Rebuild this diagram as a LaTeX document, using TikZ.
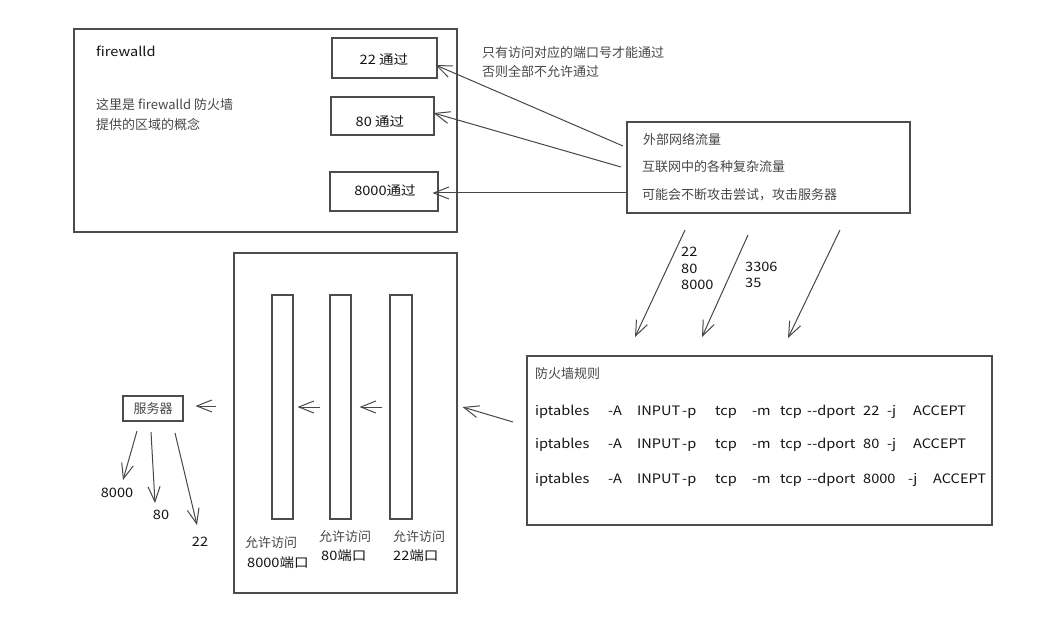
\documentclass[tikz,border=0pt]{standalone}
\usepackage{fontspec}
\setmainfont{Noto Sans CJK SC}
\newfontfamily\handf[FakeStretch=1.12]{Noto Sans CJK SC}
\usetikzlibrary{arrows.meta,calc}
\newcommand\fs{\fontsize{13}{15}\selectfont}
\newcommand\hs{\handf\fontsize{13}{15}\selectfont}
\newcommand\rw[2]{\makebox[#1pt][l]{#2}}
\begin{document}
\begin{tikzpicture}[x=1pt,y=-1pt,
  box/.style={draw=black!70,line width=1.1pt,inner sep=0pt,fill=white},
  arr/.style={draw=black!72,line width=1pt,-{Straight Barb[length=15pt,width=12pt,line width=1pt]}},
  txt/.style={anchor=west,inner sep=0pt,text=black!72,font=\fs},
  hand/.style={inner sep=0pt,text=black!92,font=\hs}]
\useasboundingbox (0,0) rectangle (1037,623);
\fill[white] (0,0) rectangle (1037,623);

% top-left firewalld box
\node[box,minimum width=383pt,minimum height=203pt] (fw) at (265.5,130.5) {};
\node[hand,anchor=west] (fwname) at (96,51) {firewalld};
\node[txt] (fwd1) at (96,105) {这里是 firewalld 防火墙};
\node[txt] (fwd2) at (96,124) {提供的区域的概念};

\node[box,minimum width=105pt,minimum height=40pt] (b22) at (384.5,58) {};
\node[hand] (t22) at (384,60) {22 通过};
\node[box,minimum width=103pt,minimum height=38pt] (b80) at (382.5,116) {};
\node[hand] (t80) at (380,122) {80 通过};
\node[box,minimum width=108pt,minimum height=39pt] (b8000) at (384,191.5) {};
\node[hand] (t8000) at (385,191) {8000通过};

\node[txt] (note1) at (482,53) {只有访问对应的端口号才能通过};
\node[txt] (note2) at (482,72) {否则全部不允许通过};

% external traffic box
\node[box,minimum width=283pt,minimum height=91pt] (ext) at (768.5,167.5) {};
\node[txt] (ext1) at (643,139) {外部网络流量};
\node[txt] (ext2) at (642,167) {互联网中的各种复杂流量};
\node[txt] (ext3) at (642,195) {可能会不断攻击尝试，攻击服务器};

\coordinate (e1) at (623,146);
\coordinate (e2) at (621,167);
\draw[arr] (e1) -- ([xshift=-2pt,yshift=-7pt]b22.east);
\draw[arr] (e2) -- ([xshift=-1pt,yshift=3pt]b80.east);
\draw[arr] ([yshift=-25.5pt]ext.west) -- ([xshift=-6pt,yshift=-1.5pt]b8000.east);

% diagonal incoming arrows
\coordinate (d1s) at (685,230); \coordinate (d1e) at (635,337);
\coordinate (d2s) at (748,235); \coordinate (d2e) at (702,337);
\coordinate (d3s) at (840,230); \coordinate (d3e) at (788,338);
\draw[arr] (d1s) -- (d1e);
\draw[arr] (d2s) -- (d2e);
\draw[arr] (d3s) -- (d3e);
\node[hand,anchor=west] (p22) at (681,252) {22};
\node[hand,anchor=west] (p80) at (681,269) {80};
\node[hand,anchor=west] (p8000) at (681,285) {8000};
\node[hand,anchor=west] (p3306) at (745,267) {3306};
\node[hand,anchor=west] (p35) at (745,283) {35};

% firewall rules box
\node[box,minimum width=465pt,minimum height=169pt] (rules) at (759.5,440.5) {};
\node[txt] (rtitle) at (535,374) {防火墙规则};
\node[hand,anchor=west] (r1) at (535,412) {\rw{73}{iptables}\rw{29}{-A}\rw{45}{INPUT}\rw{33}{-p}\rw{37}{tcp}\rw{28}{-m}\rw{27}{tcp}\rw{56}{-{}-dport}\rw{24}{22}\rw{26}{-j}ACCEPT};
\node[hand,anchor=west] (r2) at (535,445) {\rw{73}{iptables}\rw{29}{-A}\rw{45}{INPUT}\rw{33}{-p}\rw{37}{tcp}\rw{28}{-m}\rw{27}{tcp}\rw{56}{-{}-dport}\rw{24}{80}\rw{26}{-j}ACCEPT};
\node[hand,anchor=west] (r3) at (535,480) {\rw{73}{iptables}\rw{29}{-A}\rw{45}{INPUT}\rw{33}{-p}\rw{37}{tcp}\rw{28}{-m}\rw{27}{tcp}\rw{56}{-{}-dport}\rw{45}{8000}\rw{25}{-j}ACCEPT};

% tall box with columns
\node[box,minimum width=223pt,minimum height=340pt] (tall) at (345.5,423) {};
\node[box,minimum width=21pt,minimum height=224pt] (col1) at (282.5,407) {};
\node[box,minimum width=21pt,minimum height=224pt] (col2) at (340.5,407) {};
\node[box,minimum width=22pt,minimum height=224pt] (col3) at (401,407) {};
\node[txt] (c1a) at (245,543) {允许访问};
\node[hand,anchor=west] (c1b) at (247,563) {8000端口};
\node[txt] (c2a) at (319,537) {允许访问};
\node[hand,anchor=west] (c2b) at (321,556) {80端口};
\node[txt] (c3a) at (393,537) {允许访问};
\node[hand,anchor=west] (c3b) at (393,556) {22端口};

\coordinate (r0) at (513,422);
\draw[arr] (r0) -- ([xshift=5pt,yshift=16pt]tall.east);
\draw[arr] ([xshift=-9pt]col2.west) -- ([xshift=4pt]col1.east);
\draw[arr] ([xshift=-7pt]col3.west) -- ([xshift=8pt]col2.east);

% server
\node[box,minimum width=60pt,minimum height=25pt,text=black!72,font=\fs] (srv) at (153,408.5) {服务器};
\draw[arr] ([xshift=-17pt,yshift=17pt]tall.west) -- ([xshift=12pt,yshift=2.5pt]srv.east);
\coordinate (s1s) at (137,431); \coordinate (s1e) at (123,480);
\coordinate (s2s) at (151,432); \coordinate (s2e) at (155,503);
\coordinate (s3s) at (175,433); \coordinate (s3e) at (197,525);
\draw[arr] (s1s) -- (s1e);
\draw[arr] (s2s) -- (s2e);
\draw[arr] (s3s) -- (s3e);
\node[hand] (o8000) at (117,493) {8000};
\node[hand] (o80) at (161,515) {80};
\node[hand] (o22) at (200,542) {22};
\end{tikzpicture}
\end{document}
